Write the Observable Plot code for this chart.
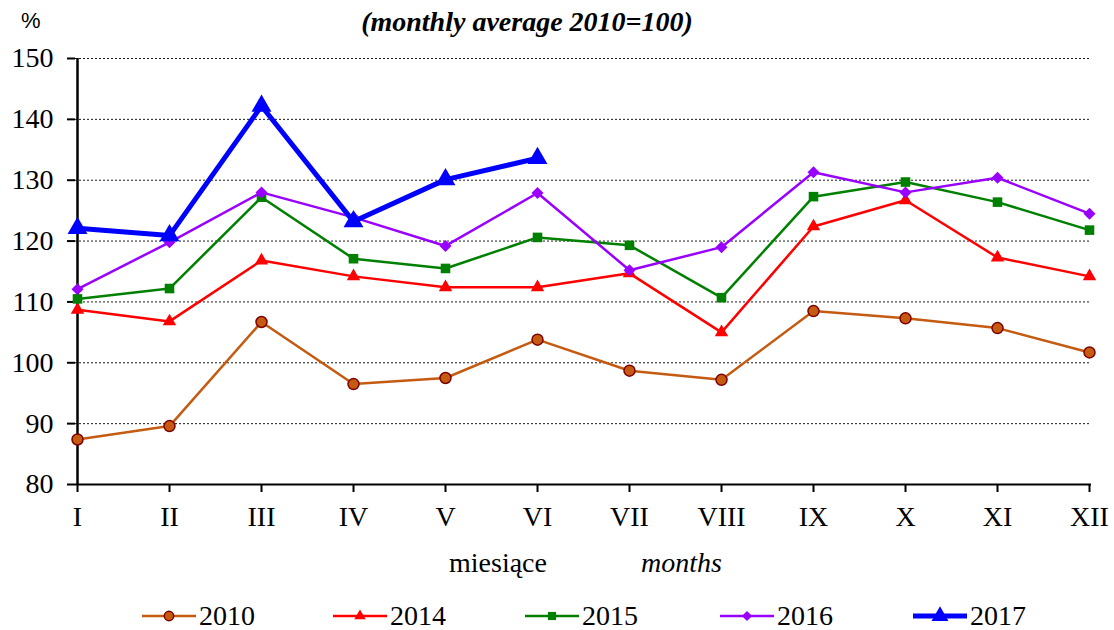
<!DOCTYPE html>
<html>
<head>
<meta charset="utf-8">
<script src="https://cdn.jsdelivr.net/npm/d3@7"></script>
<script src="https://cdn.jsdelivr.net/npm/@observablehq/plot@0.6"></script>
<style>
  html, body { margin: 0; padding: 0; background: #fff; }
  #wrap { position: relative; width: 1114px; height: 630px; overflow: hidden; font-family: "Liberation Serif", "Times New Roman", "DejaVu Serif", serif; color: #000; }
  #chart { position: absolute; left: 0; top: 0; }
  .abs { position: absolute; white-space: nowrap; }
  #subtitle { left: 0; width: 1054px; text-align: center; top: 6px; font-size: 28px; font-weight: bold; font-style: italic; line-height: 32px; }
  #pct { left: 21px; top: 8px; font-family: "Liberation Sans", Arial, sans-serif; font-size: 22px; line-height: 26px; }
  .xl { top: 547px; font-size: 28px; line-height: 32px; }
  .leg { top: 601px; height: 30px; display: flex; align-items: center; font-size: 28px; line-height: 30px; }
  .leg svg { margin-right: 3px; }
</style>
</head>
<body>
<div id="wrap">
  <div id="chart"></div>
  <div id="subtitle" class="abs">(monthly average 2010=100)</div>
  <div id="pct" class="abs">%</div>
  <div class="abs xl" style="left:449px">miesiące</div>
  <div class="abs xl" style="left:641px;font-style:italic">months</div>
  <div id="legend"></div>
</div>
<script>
const months = ["I","II","III","IV","V","VI","VII","VIII","IX","X","XI","XII"];
const years = ["2010","2014","2015","2016","2017"];
const v2010 = [87.4, 89.6, 106.7, 96.5, 97.5, 103.8, 98.7, 97.2, 108.5, 107.3, 105.7, 101.7];
const v2014 = [108.7, 106.8, 116.8, 114.2, 112.4, 112.4, 114.7, 105.0, 122.4, 126.7, 117.3, 114.2];
const v2015 = [110.5, 112.2, 127.2, 117.1, 115.5, 120.6, 119.3, 110.7, 127.3, 129.7, 126.4, 121.8];
const v2016 = [112.1, 119.8, 128.0, 123.9, 119.2, 127.9, 115.2, 119.0, 131.3, 128.0, 130.4, 124.5];
const v2017 = [122.1, 120.9, 142.2, 123.2, 130.1, 133.6];
const yTicks = [80, 90, 100, 110, 120, 130, 140, 150];

const styles = {
  "2010": {stroke: "#c55a11", width: 2.5, symbol: "circle", r: 5.5, fill: "#c55a11", mstroke: "#7f0000", mw: 1.5},
  "2014": {stroke: "#ff0000", width: 2.5, symbol: "triangle", r: 5, fill: "#ff0000", mstroke: "none", mw: 0},
  "2015": {stroke: "#008000", width: 2.5, symbol: "square", r: 5.4, fill: "#008000", mstroke: "none", mw: 0},
  "2016": {stroke: "#9900ff", width: 2.5, symbol: "diamond2", r: 5.4, fill: "#9900ff", mstroke: "none", mw: 0},
  "2017": {stroke: "#0000ff", width: 5, symbol: "triangle", r: 7.4, fill: "#0000ff", mstroke: "none", mw: 0}
};
const series = {"2010": v2010, "2014": v2014, "2015": v2015, "2016": v2016, "2017": v2017};

const font = "'Liberation Serif', 'Times New Roman', 'DejaVu Serif', serif";
const marks = [
  Plot.gridY(yTicks.filter(d => d > 80), {stroke: "#000", strokeOpacity: 0.9, strokeDasharray: "2,2", strokeWidth: 1}),
  Plot.ruleY([80], {stroke: "#000", strokeWidth: 2}),
  Plot.ruleX([months[0]], {stroke: "#000", strokeWidth: 2.5}),
  Plot.axisY({ticks: yTicks, tickSize: 8, tickPadding: 14, fontSize: 28, fontFamily: font, label: null, strokeWidth: 2, tickFormat: d => d}),
  Plot.axisX({tickSize: 8, tickPadding: 14, fontSize: 28, fontFamily: font, label: null, strokeWidth: 2})
];
for (const y of years) {
  const s = styles[y];
  const data = series[y].map((v, i) => ({m: months[i], v}));
  marks.push(Plot.line(data, {x: "m", y: "v", stroke: s.stroke, strokeWidth: s.width, strokeLinejoin: "miter"}));
  marks.push(Plot.dot(data, {x: "m", y: "v", symbol: () => s.symbol, r: s.r, fill: s.fill, stroke: s.mstroke, strokeWidth: s.mw}));
}

const chart = Plot.plot({
  width: 1114,
  height: 630,
  marginTop: 58,
  marginBottom: 146,
  marginLeft: 75,
  marginRight: 23,
  style: {fontFamily: font, background: "white", overflow: "visible"},
  x: {type: "point", domain: months, padding: 0},
  y: {domain: [80, 150]},
  symbol: {type: "identity"},
  marks
});
document.getElementById("chart").appendChild(chart);

// legend
const legendX = [142, 333, 525, 720, 913];
const legend = document.getElementById("legend");
years.forEach((y, i) => {
  const s = styles[y];
  const div = document.createElement("div");
  div.className = "abs leg";
  div.style.left = legendX[i] + "px";
  const w = 54, h = 24;
  const svg = d3.create("svg").attr("width", w).attr("height", h);
  svg.append("line").attr("x1", 0).attr("x2", w).attr("y1", h/2).attr("y2", h/2)
    .attr("stroke", s.stroke).attr("stroke-width", s.width);
  const sym = {circle: d3.symbolCircle, triangle: d3.symbolTriangle, square: d3.symbolSquare, diamond2: d3.symbolDiamond2}[s.symbol];
  const size = Math.PI * (s.r * 0.85) ** 2;
  svg.append("path").attr("d", d3.symbol(sym, size)())
    .attr("transform", `translate(${w/2},${h/2})`)
    .attr("fill", s.fill).attr("stroke", s.mstroke).attr("stroke-width", s.mw);
  div.appendChild(svg.node());
  const t = document.createElement("span");
  t.textContent = y;
  div.appendChild(t);
  legend.appendChild(div);
});
</script>
</body>
</html>
